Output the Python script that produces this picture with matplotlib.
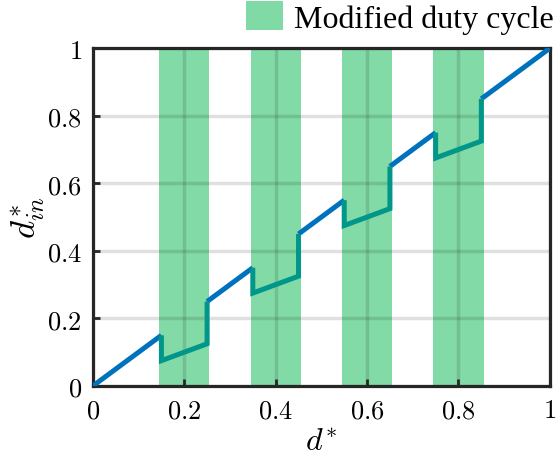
import matplotlib
matplotlib.use("Agg")
import matplotlib.pyplot as plt
from matplotlib.patches import Patch

plt.rcParams['mathtext.fontset'] = 'cm'

# data
band_left = [0.145, 0.345, 0.545, 0.745]
band_right = [0.255, 0.455, 0.655, 0.855]
mod_start = [0.15, 0.35, 0.55, 0.75]
mod_end = [0.25, 0.45, 0.65, 0.85]
mod_low = [0.075, 0.275, 0.475, 0.675]
mod_high = [0.125, 0.325, 0.525, 0.725]
ticks = [0, 0.2, 0.4, 0.6, 0.8, 1]
tick_labels = ['0', '0.2', '0.4', '0.6', '0.8', '1']

blue = '#0072BD'
teal = '#00968A'
band_col = (0.3, 0.8, 0.5)

fig = plt.figure(figsize=(5.56, 4.64), dpi=100)
ax = fig.add_axes([0.167, 0.166, 0.822, 0.728])

for s, e in zip(band_left, band_right):
    ax.axvspan(s, e, color=band_col, alpha=0.7, lw=0, zorder=1)

# blue segments (nominal d_in = d)
bx = [0] + mod_end
ex = mod_start + [1]
for a, b in zip(bx, ex):
    ax.plot([a, b], [a, b], color=blue, lw=3.6, solid_capstyle='butt', solid_joinstyle='miter', zorder=3)

# modified segments
for s, e, lo, hi in zip(mod_start, mod_end, mod_low, mod_high):
    ax.plot([s, s, e, e], [s, lo, hi, e], color=teal, lw=3.6, solid_joinstyle='miter',
            solid_capstyle='butt', zorder=3)

ax.set_xlim(0, 1)
ax.set_ylim(0, 1)
ax.set_xticks(ticks)
ax.set_yticks(ticks)
ax.set_xticklabels(['$' + t + '$' for t in tick_labels], fontsize=19)
ax.set_yticklabels(['$' + t + '$' for t in tick_labels], fontsize=19)
ax.tick_params(direction='in', length=5, width=2, color='#262626', pad=8)
ax.grid(True, color='black', alpha=0.12, lw=2.5)
for sp in ax.spines.values():
    sp.set_linewidth(2.3)
    sp.set_color('#262626')

ax.set_xlabel(r'$d^{\!*}$', fontsize=23, labelpad=2)
ax.set_ylabel(r'$d^{\!*}_{in}$', fontsize=25, labelpad=0)

h = Patch(facecolor=(0.5, 0.855, 0.65), edgecolor='none')
fig.legend([h], ['Modified duty cycle'], loc='upper right', bbox_to_anchor=(0.996, 0.996),
           frameon=False, prop={'family': 'Liberation Serif', 'size': 23},
           borderpad=0, borderaxespad=0,
           handlelength=1.15, handleheight=1.05, handletextpad=0.35)

fig.savefig('out.png', dpi=100)
